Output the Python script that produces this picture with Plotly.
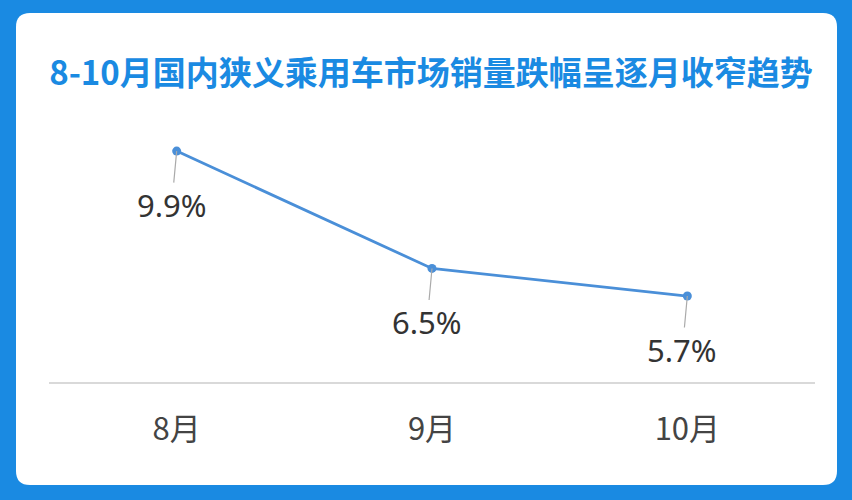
import plotly.graph_objects as go

# data
months = ['8月', '9月', '10月']
decline = [9.9, 6.5, 5.7]
labels = ['9.9%', '6.5%', '5.7%']

title_text = '8-10月国内狭义乘用车市场销量跌幅呈逐月收窄趋势'

W, H = 852, 500
BLUE = '#1a8ae2'
LINE = '#4a8fd8'


def px(x):
    return x / W


def py(y):
    return 1 - y / H


fig = go.Figure()

fig.add_trace(go.Scatter(
    x=months, y=decline, mode='lines+markers',
    line=dict(color=LINE, width=2.8),
    marker=dict(color=LINE, size=9),
    hoverinfo='skip', showlegend=False,
))

# value labels hanging under each point with a thin leader line
for m, v, t in zip(months, decline, labels):
    fig.add_annotation(
        x=m, y=v, text=t, showarrow=True,
        arrowhead=0, arrowwidth=1.2, arrowcolor='#aaaaaa',
        ax=-5, ay=54, standoff=0,
        font=dict(family='Noto Sans, Open Sans, sans-serif', size=31, color='#333333'),
    )

# white rounded card on the blue background
x0, y0, x1, y1, r = px(16), py(485), px(837), py(13), 14
rx, ry = r / W, r / H
card = (f'M {x0 + rx},{y0} L {x1 - rx},{y0} Q {x1},{y0} {x1},{y0 + ry} '
        f'L {x1},{y1 - ry} Q {x1},{y1} {x1 - rx},{y1} '
        f'L {x0 + rx},{y1} Q {x0},{y1} {x0},{y1 - ry} '
        f'L {x0},{y0 + ry} Q {x0},{y0} {x0 + rx},{y0} Z')

fig.update_layout(
    width=W, height=H,
    margin=dict(l=0, r=0, t=0, b=0),
    paper_bgcolor=BLUE,
    plot_bgcolor='rgba(0,0,0,0)',
    shapes=[
        dict(type='path', path=card, xref='paper', yref='paper',
             fillcolor='white', line=dict(width=0), layer='below'),
    ],
    title=dict(
        text=f'<b>{title_text}</b>',
        x=px(431), y=py(73), xanchor='center', yanchor='middle',
        font=dict(family='Noto Sans CJK SC', size=33, color=BLUE),
    ),
    xaxis=dict(
        domain=[px(49), px(815)], range=[-0.5, 2.5],
        showgrid=False, zeroline=False,
        showline=True, linecolor='#d9d9d9', linewidth=1.5,
        ticks='', ticklabelstandoff=19,
        tickfont=dict(family='Noto Sans CJK SC', size=31, color='#444444'),
    ),
    yaxis=dict(
        domain=[py(382), py(110)], range=[3.21, 11.09],
        visible=False,
    ),
)

# the page body has a default 8px margin, drop it so the chart fills the window
fig.write_html('out.html', config={'displayModeBar': False},
               post_script="document.body.style.margin='0';")
